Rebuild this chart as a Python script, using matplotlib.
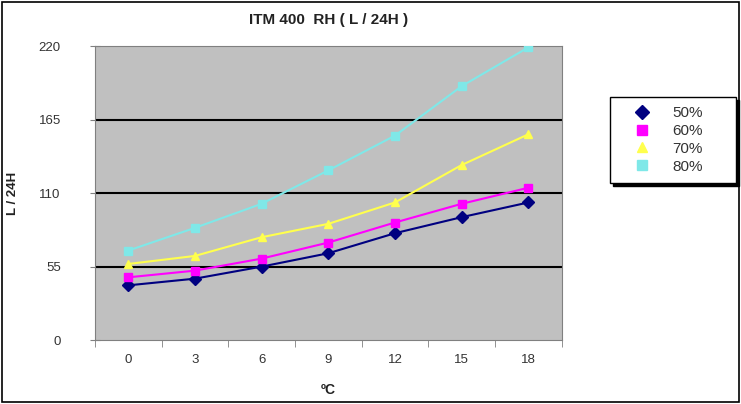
import numpy as np
import matplotlib
matplotlib.use("Agg")
import matplotlib.pyplot as plt
from matplotlib.patches import Rectangle
from matplotlib.lines import Line2D

plt.rcParams['font.family'] = ['Liberation Sans', 'DejaVu Sans']

temps = [0, 3, 6, 9, 12, 15, 18]
rh50 = [41, 46, 55, 65, 80, 92, 103]
rh60 = [47, 52, 61, 73, 88, 102, 114]
rh70 = [57, 63, 77, 87, 103, 131, 154]
rh80 = [67, 84, 102, 127, 153, 190, 219]
labels = ['50%', '60%', '70%', '80%']
yticks = [0, 55, 110, 165, 220]

series = [rh50, rh60, rh70, rh80]
colors = ['#000080', '#ff00ff', '#ffff4d', '#7fe8e8']
markers = ['D', 's', '^', 's']
txt = '#333333'

fig = plt.figure(figsize=(7.41, 4.04), dpi=100)
fig.patches.append(Rectangle((0.003, 0.006), 0.994, 0.99, transform=fig.transFigure,
                             fill=False, edgecolor='black', lw=1.2))

ax = fig.add_axes([0.128, 0.158, 0.630, 0.728])
ax.set_facecolor('#c0c0c0')
x = np.arange(len(temps))
for vals, c, m, lab in zip(series, colors, markers, labels):
    ax.plot(x, vals, color=c, marker=m, markersize=6, lw=1.5, label=lab, zorder=3)

ax.set_xlim(-0.5, len(temps) - 0.5)
ax.set_ylim(0, 220)
ax.set_yticks(yticks)
ax.set_xticks(x)
ax.set_xticklabels([str(t) for t in temps])
ax.set_xticks(np.arange(-0.5, len(temps)), minor=True)
ax.tick_params(axis='x', which='major', length=0, labelsize=9.5, pad=10, labelcolor=txt)
ax.tick_params(axis='x', which='minor', length=5, color='#808080')
ax.tick_params(axis='y', direction='inout', length=7, color='#808080', labelsize=9.5,
               labelcolor=txt, pad=21)
for yv in yticks[1:-1]:
    ax.axhline(yv, color='black', lw=1.5, zorder=2)
for s in ax.spines.values():
    s.set_color('#808080')

ax.set_title('ITM 400  RH ( L / 24H )', fontsize=11, fontweight='bold', pad=16, color='#222222')
ax.set_xlabel('ºC', fontsize=10, fontweight='bold', labelpad=12, color='#222222')
ax.set_ylabel('L / 24H', fontsize=9.5, fontweight='bold', labelpad=14, color='#222222')

handles = [Line2D([], [], color=c, marker=m, markersize=7, ls='none') for c, m in zip(colors, markers)]
leg = fig.legend(handles, labels, loc='upper left', bbox_to_anchor=(0.823, 0.555, 0.170, 0.205),
                 mode='expand', frameon=True, fancybox=False, edgecolor='black', fontsize=11,
                 handlelength=3.0, handletextpad=0.5, labelspacing=0.25,
                 borderpad=0.6, borderaxespad=0, shadow={'color': 'black', 'alpha': 1})
for t in leg.get_texts():
    t.set_color(txt)

fig.savefig('out.png', dpi=100)
